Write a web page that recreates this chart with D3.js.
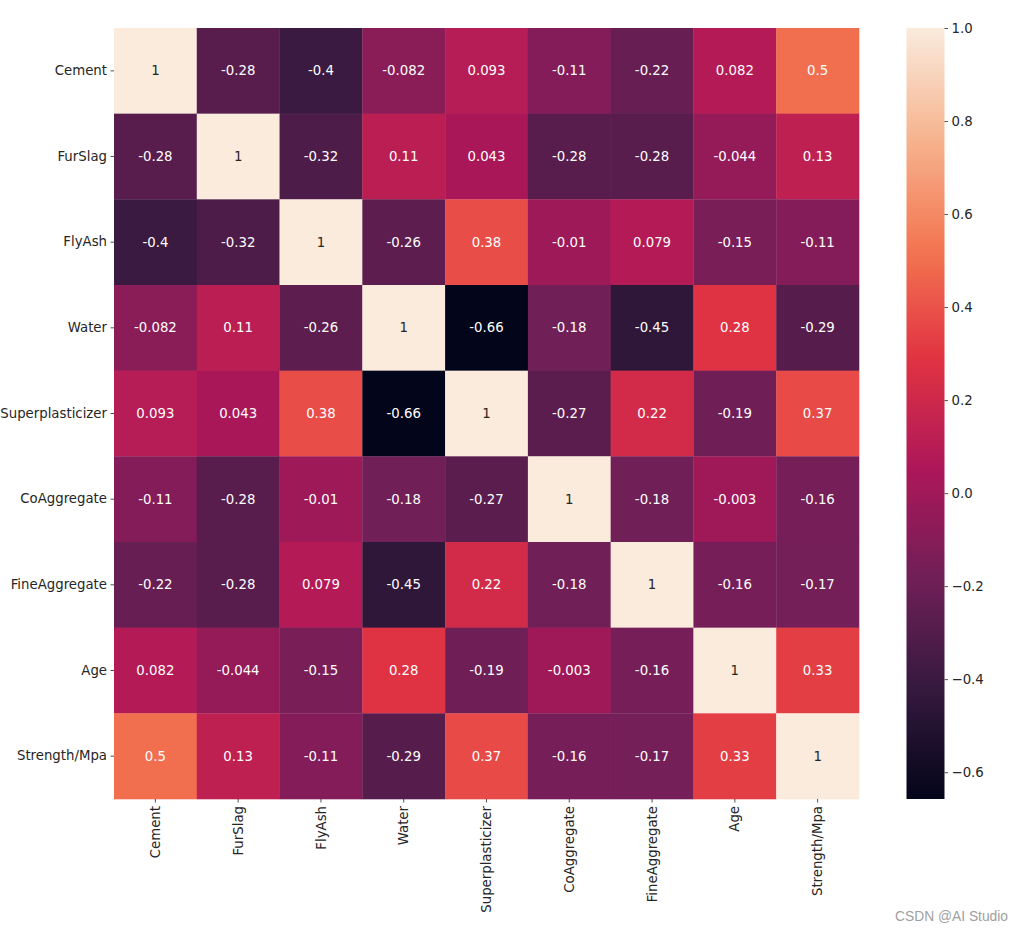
<!DOCTYPE html>
<html><head><meta charset="utf-8">
<script src="https://cdn.jsdelivr.net/npm/d3@7"></script>
<style>body{margin:0;background:#fff;} svg{display:block;font-family:"DejaVu Sans",sans-serif;}</style>
</head><body>
<svg id="chart" width="1023" height="931"></svg>
<script>
const categories = ["Cement","FurSlag","FlyAsh","Water","Superplasticizer","CoAggregate","FineAggregate","Age","Strength/Mpa"];
const rowCement      = [1, -0.28, -0.4, -0.082, 0.093, -0.11, -0.22, 0.082, 0.5];
const rowFurSlag     = [-0.28, 1, -0.32, 0.11, 0.043, -0.28, -0.28, -0.044, 0.13];
const rowFlyAsh      = [-0.4, -0.32, 1, -0.26, 0.38, -0.01, 0.079, -0.15, -0.11];
const rowWater       = [-0.082, 0.11, -0.26, 1, -0.66, -0.18, -0.45, 0.28, -0.29];
const rowSuper       = [0.093, 0.043, 0.38, -0.66, 1, -0.27, 0.22, -0.19, 0.37];
const rowCoAgg       = [-0.11, -0.28, -0.01, -0.18, -0.27, 1, -0.18, -0.003, -0.16];
const rowFineAgg     = [-0.22, -0.28, 0.079, -0.45, 0.22, -0.18, 1, -0.16, -0.17];
const rowAge         = [0.082, -0.044, -0.15, 0.28, -0.19, -0.003, -0.16, 1, 0.33];
const rowStrength    = [0.5, 0.13, -0.11, -0.29, 0.37, -0.16, -0.17, 0.33, 1];
const matrix = [rowCement,rowFurSlag,rowFlyAsh,rowWater,rowSuper,rowCoAgg,rowFineAgg,rowAge,rowStrength];
const colorbarTicks = [1.0, 0.8, 0.6, 0.4, 0.2, 0.0, -0.2, -0.4, -0.6];
const vmin = -0.6577, vmax = 1.0;
const rocketStops = ["#03051a","#35193e","#701f57","#ad1759","#e13342","#f37651","#f6b48f","#faebdd"];

const rocket = d3.piecewise(d3.interpolateRgb, rocketStops);
const color = d3.scaleSequential(rocket).domain([vmin, vmax]);

const svg = d3.select("#chart");
const L = 114, T = 28, R = 859, B = 799;
const x = d3.scaleBand().domain(categories).range([L, R]);
const y = d3.scaleBand().domain(categories).range([T, B]);

const cells = [];
matrix.forEach((row, i) => row.forEach((v, j) => cells.push({r: categories[i], c: categories[j], v})));

function lum(c){
  const rgb = d3.rgb(c);
  const f = u => { u/=255; return u <= 0.03928 ? u/12.92 : Math.pow((u+0.055)/1.055, 2.4); };
  return 0.2126*f(rgb.r)+0.7152*f(rgb.g)+0.0722*f(rgb.b);
}

svg.append("g").selectAll("rect").data(cells).join("rect")
  .attr("x", d => x(d.c)).attr("y", d => y(d.r))
  .attr("width", x.bandwidth()+0.3).attr("height", y.bandwidth()+0.3)
  .attr("fill", d => color(d.v));

svg.append("g").selectAll("text").data(cells).join("text")
  .attr("x", d => x(d.c) + x.bandwidth()/2)
  .attr("y", d => y(d.r) + y.bandwidth()/2)
  .attr("text-anchor", "middle").attr("dominant-baseline", "central")
  .attr("font-size", "13.3px")
  .attr("fill", d => lum(color(d.v)) > 0.408 ? "#262626" : "#ffffff")
  .text(d => String(d.v));

const fmtTick = d => String(d).replace("-", "\u2212");

// axes
const yAxis = d3.axisLeft(y).tickSize(3.5).tickPadding(3.5);
const gy = svg.append("g").attr("transform", `translate(${L},0)`).call(yAxis);
gy.select(".domain").remove();
gy.selectAll("line").attr("stroke", "#262626").attr("stroke-width", 0.8);
gy.selectAll("text").attr("font-size", "13.3px").attr("fill", "#262626").attr("font-family", "DejaVu Sans");

const xAxis = d3.axisBottom(x).tickSize(3.5).tickPadding(3.5);
const gx = svg.append("g").attr("transform", `translate(0,${B})`).call(xAxis);
gx.select(".domain").remove();
gx.selectAll("line").attr("stroke", "#262626").attr("stroke-width", 0.8);
gx.selectAll("text").attr("font-size", "13.3px").attr("fill", "#262626").attr("font-family", "DejaVu Sans")
  .attr("transform", "rotate(-90)").attr("text-anchor", "end").attr("dy", "0.35em")
  .attr("x", -7).attr("y", 0);

// colorbar
const CL = 906.5, CW = 38;
const cy = d3.scaleLinear().domain([vmin, vmax]).range([B, T]);
const defs = svg.append("defs");
const grad = defs.append("linearGradient").attr("id", "cbar").attr("x1", 0).attr("y1", 1).attr("x2", 0).attr("y2", 0);
d3.range(0, 101).forEach(k => {
  grad.append("stop").attr("offset", k + "%").attr("stop-color", rocket(k/100));
});
svg.append("rect").attr("x", CL).attr("y", T).attr("width", CW).attr("height", B - T).attr("fill", "url(#cbar)");

const cAxis = d3.axisRight(cy).tickValues(colorbarTicks).tickSize(3.5).tickPadding(3.5)
  .tickFormat(d => fmtTick(d3.format(".1f")(d)));
const gc = svg.append("g").attr("transform", `translate(${CL + CW},0)`).call(cAxis);
gc.select(".domain").remove();
gc.selectAll("line").attr("stroke", "#262626").attr("stroke-width", 0.8);
gc.selectAll("text").attr("font-size", "13.3px").attr("fill", "#262626").attr("font-family", "DejaVu Sans");

// watermark
svg.append("text").attr("x", 1008).attr("y", 921).attr("text-anchor", "end")
  .attr("font-size", "13.8px").attr("fill", "#a0a0a0").attr("font-family", "Liberation Sans, Arial, sans-serif")
  .text("CSDN @AI Studio");
</script>
</body></html>
